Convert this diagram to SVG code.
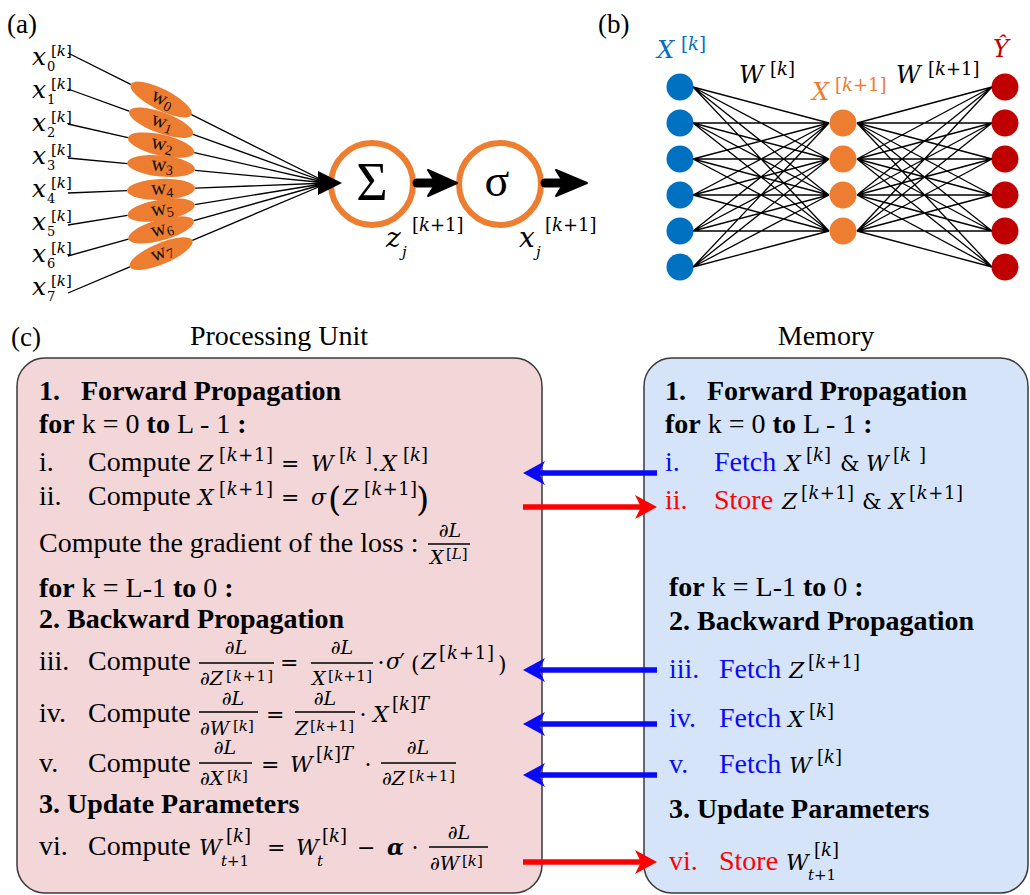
<svg xmlns="http://www.w3.org/2000/svg" width="1030" height="895" viewBox="0 0 1030 895">
<defs>
<style>
.t{font-family:"Liberation Serif","Times New Roman",serif;font-size:28px;fill:#000}
.b{font-weight:bold}
.m{font-family:"DejaVu Serif",serif;font-style:italic;font-size:22px}
.mu{font-family:"DejaVu Serif",serif;font-size:22px}
.s{font-family:"DejaVu Serif",serif;font-size:18px}
.ss{font-family:"DejaVu Serif",serif;font-size:15px}
.sx{font-family:"DejaVu Serif",serif;font-size:15px}
.sd{font-family:"DejaVu Serif",serif;font-size:13px}
.f{font-family:"DejaVu Serif",serif;font-style:italic;font-size:19px}
.i{font-style:italic}
.xa{font-family:"DejaVu Serif",serif;font-style:italic;font-size:25px}
.xz{font-family:"DejaVu Serif",serif;font-style:italic;font-size:28px}
.xb{font-family:"DejaVu Serif",serif;font-style:italic;font-size:24px}
.lbl{font-family:"Liberation Serif","Times New Roman",serif;font-size:27px}
.wl{font-family:"Liberation Serif",serif;font-size:21px;fill:#111}
.ws{font-size:14px}
.wt{fill:#ED7D31}
.blue{fill:#0A0AF5}
.red{fill:#FF0000}
.bar{stroke:#000;stroke-width:1.3}
.nn{stroke:#000;stroke-width:1.3;fill:none}
.ring{fill:#fff;stroke:#ED7D31;stroke-width:6}
.nb{fill:#0070C0}
.no{fill:#ED7D31}
.nr{fill:#C00000}
</style>
<marker id="hb" viewBox="0 0 22 24" refX="9" refY="12" markerWidth="22" markerHeight="24" markerUnits="userSpaceOnUse" orient="auto"><path d="M0 0L22 12L0 24L6 12Z" fill="#0A0AF5"/></marker>
<marker id="hr" viewBox="0 0 22 24" refX="9" refY="12" markerWidth="22" markerHeight="24" markerUnits="userSpaceOnUse" orient="auto"><path d="M0 0L22 12L0 24L6 12Z" fill="#FF0000"/></marker>
</defs>
<rect width="1030" height="895" fill="#fff"/>

<!-- panel labels -->
<text class="lbl" x="7" y="33">(a)</text>
<text class="lbl" x="598" y="33">(b)</text>
<text class="lbl" x="11" y="346">(c)</text>

<!-- Panel (a) inputs -->
<g id="a-inputs">
<g id="x0"><text class="xa" x="32" y="65">x</text><text class="sd" x="47" y="71">0</text><text class="sx" x="51" y="56">[<tspan class="i">k</tspan>]</text></g>
<g id="x1"><text class="xa" x="32" y="98">x</text><text class="sd" x="47" y="104">1</text><text class="sx" x="51" y="89">[<tspan class="i">k</tspan>]</text></g>
<g id="x2"><text class="xa" x="32" y="131">x</text><text class="sd" x="47" y="137">2</text><text class="sx" x="51" y="122">[<tspan class="i">k</tspan>]</text></g>
<g id="x3"><text class="xa" x="32" y="164">x</text><text class="sd" x="47" y="170">3</text><text class="sx" x="51" y="155">[<tspan class="i">k</tspan>]</text></g>
<g id="x4"><text class="xa" x="32" y="197">x</text><text class="sd" x="47" y="203">4</text><text class="sx" x="51" y="188">[<tspan class="i">k</tspan>]</text></g>
<g id="x5"><text class="xa" x="32" y="230">x</text><text class="sd" x="47" y="236">5</text><text class="sx" x="51" y="221">[<tspan class="i">k</tspan>]</text></g>
<g id="x6"><text class="xa" x="32" y="262">x</text><text class="sd" x="47" y="268">6</text><text class="sx" x="51" y="253">[<tspan class="i">k</tspan>]</text></g>
<g id="x7"><text class="xa" x="32" y="295">x</text><text class="sd" x="47" y="301">7</text><text class="sx" x="51" y="286">[<tspan class="i">k</tspan>]</text></g>
</g>

<!-- Panel (a) weights -->
<g id="a-weights">
<g id="w0" transform="translate(161.1 99.5) rotate(26.6)"><ellipse class="wt" rx="34" ry="10.5"/><text class="wl" x="-10" y="5">w<tspan class="ws" dy="3">0</tspan></text></g>
<g id="w1" transform="translate(161.1 122.7) rotate(19.9)"><ellipse class="wt" rx="34" ry="10.5"/><text class="wl" x="-10" y="5">w<tspan class="ws" dy="3">1</tspan></text></g>
<g id="w2" transform="translate(161.1 145.1) rotate(12.8)"><ellipse class="wt" rx="34" ry="10.5"/><text class="wl" x="-10" y="5">w<tspan class="ws" dy="3">2</tspan></text></g>
<g id="w3" transform="translate(161.1 166) rotate(5.5)"><ellipse class="wt" rx="34" ry="10.5"/><text class="wl" x="-10" y="5">w<tspan class="ws" dy="3">3</tspan></text></g>
<g id="w4" transform="translate(161.1 189.4) rotate(-2.2)"><ellipse class="wt" rx="34" ry="10.5"/><text class="wl" x="-10" y="5">w<tspan class="ws" dy="3">4</tspan></text></g>
<g id="w5" transform="translate(161.1 210) rotate(-9.2)"><ellipse class="wt" rx="34" ry="10.5"/><text class="wl" x="-10" y="5">w<tspan class="ws" dy="3">5</tspan></text></g>
<g id="w6" transform="translate(161.1 229.9) rotate(-15.7)"><ellipse class="wt" rx="34" ry="10.5"/><text class="wl" x="-10" y="5">w<tspan class="ws" dy="3">6</tspan></text></g>
<g id="w7" transform="translate(161.1 253.6) rotate(-22.9)"><ellipse class="wt" rx="34" ry="10.5"/><text class="wl" x="-10" y="5">w<tspan class="ws" dy="3">7</tspan></text></g>
</g>

<!-- Panel (a) sum and activation -->
<g id="a-sum">
<circle class="ring" cx="372" cy="184" r="41"/>
<text x="372" y="200" text-anchor="middle" style="font-family:'Liberation Serif',serif;font-size:54px">Σ</text>
<text class="xz" x="386" y="247">z</text><text class="ss i" x="402" y="257">j</text>
<text class="s" x="412" y="231">[<tspan class="i">k</tspan>+1]</text>
</g>
<g id="a-sigma">
<circle class="ring" cx="500" cy="184" r="41"/>
<text x="497" y="196" text-anchor="middle" style="font-family:'Liberation Serif',serif;font-size:46px">σ</text>
<text class="xz" x="519" y="247">x</text><text class="ss i" x="536" y="257">j</text>
<text class="s" x="545" y="231">[<tspan class="i">k</tspan>+1]</text>
</g>

<!-- Panel (b) layers -->
<g id="b-input-layer">
<text class="xb" x="657" y="58" fill="#0070C0">X</text><text class="s" x="681" y="50" fill="#0070C0">[<tspan class="i">k</tspan>]</text>
<circle class="nb" cx="680" cy="87" r="13.5"/><circle class="nb" cx="680" cy="123" r="13.5"/><circle class="nb" cx="680" cy="159" r="13.5"/>
<circle class="nb" cx="680" cy="195" r="13.5"/><circle class="nb" cx="680" cy="231" r="13.5"/><circle class="nb" cx="680" cy="267" r="13.5"/>
</g>
<g id="b-hidden-layer">
<text class="xb" x="812" y="100" fill="#ED7D31">X</text><text class="s" x="835" y="91" fill="#ED7D31">[<tspan class="i">k</tspan>+1]</text>
<circle class="no" cx="843" cy="123" r="13.5"/><circle class="no" cx="843" cy="159" r="13.5"/>
<circle class="no" cx="843" cy="195" r="13.5"/><circle class="no" cx="843" cy="231" r="13.5"/>
</g>
<g id="b-output-layer">
<text class="xb" x="993" y="57" fill="#C00000">Ŷ</text>
<circle class="nr" cx="1005" cy="87" r="13.5"/><circle class="nr" cx="1005" cy="123" r="13.5"/><circle class="nr" cx="1005" cy="159" r="13.5"/>
<circle class="nr" cx="1005" cy="195" r="13.5"/><circle class="nr" cx="1005" cy="231" r="13.5"/><circle class="nr" cx="1005" cy="267" r="13.5"/>
</g>
<g id="b-weight-labels">
<text class="xb" x="739" y="83">W</text><text class="s" x="770" y="75">[<tspan class="i">k</tspan>]</text>
<text class="xb" x="896" y="83">W</text><text class="s" x="928" y="75">[<tspan class="i">k</tspan>+1]</text>
</g>

<!-- Panel (c) titles -->
<text class="t" x="279" y="345" text-anchor="middle">Processing Unit</text>
<text class="t" x="826" y="345" text-anchor="middle">Memory</text>

<!-- Processing unit -->
<g id="processing-unit">
<rect x="17" y="358" width="525" height="535" rx="28" fill="#F2D6D8" stroke="#3a3a3a" stroke-width="1.5"/>
<text class="t b" x="39" y="400">1.</text><text class="t b" x="81" y="400">Forward Propagation</text>
<text class="t" x="39" y="433"><tspan class="b">for</tspan> k = 0 <tspan class="b">to</tspan> L - 1 <tspan class="b">:</tspan></text>

<text class="t" x="39" y="471">i.</text><text class="t" x="88" y="471">Compute</text>
<text class="m" x="198" y="471">Z</text><text class="s" x="219" y="461" textLength="54">[<tspan class="i">k</tspan>+1]</text>
<text class="mu" x="281" y="471">=</text>
<text class="m" x="311" y="471">W</text><text class="s" x="339" y="461">[<tspan class="i">k</tspan></text><text class="s" x="365" y="461">]</text>
<text class="mu" x="372" y="471">.</text>
<text class="m" x="381" y="471">X</text><text class="s" x="403" y="461">[<tspan class="i">k</tspan>]</text>

<text class="t" x="39" y="505">ii.</text><text class="t" x="88" y="505">Compute</text>
<text class="m" x="198" y="505">X</text><text class="s" x="219" y="495" textLength="54">[<tspan class="i">k</tspan>+1]</text>
<text class="mu" x="281" y="505">=</text>
<text class="m" x="311" y="505">σ</text>
<text class="mu" x="328" y="511" style="font-size:34px">(</text>
<text class="m" x="343" y="505">Z</text><text class="s" x="364" y="495" textLength="53">[<tspan class="i">k</tspan>+1]</text>
<text class="mu" x="416" y="511" style="font-size:34px">)</text>

<text class="t" x="39" y="552">Compute the gradient of the loss :</text>
<text class="f" x="450" y="537" text-anchor="middle">∂L</text>
<path class="bar" d="M428 544H470"/>
<text class="f" x="430" y="564">X</text><text class="ss" x="446" y="559">[<tspan class="i">L</tspan>]</text>

<text class="t" x="39" y="597"><tspan class="b">for</tspan> k = L-1 <tspan class="b">to</tspan> 0 <tspan class="b">:</tspan></text>
<text class="t b" x="39" y="628">2. Backward Propagation</text>

<text class="t" x="39" y="670">iii.</text><text class="t" x="88" y="670">Compute</text>
<text class="f" x="236" y="654" text-anchor="middle">∂L</text>
<path class="bar" d="M199 663H274"/>
<text class="f" x="200" y="685">∂Z</text><text class="ss" x="226" y="681" textLength="47">[<tspan class="i">k</tspan>+1]</text>
<text class="mu" x="280" y="670">=</text>
<text class="f" x="342" y="654" text-anchor="middle">∂L</text>
<path class="bar" d="M311 663H373"/>
<text class="f" x="312" y="685">X</text><text class="ss" x="328" y="681" textLength="44">[<tspan class="i">k</tspan>+1]</text>
<text class="mu" x="381" y="670" text-anchor="middle">·</text>
<text class="m" x="386" y="669">σ</text><text class="mu" x="400" y="669">′</text>
<text class="mu" x="411" y="672">(</text>
<text class="m" x="421" y="669">Z</text><text class="s" x="439" y="659" textLength="55">[<tspan class="i">k</tspan>+1]</text>
<text class="mu" x="498" y="672">)</text>

<text class="t" x="39" y="722">iv.</text><text class="t" x="88" y="722">Compute</text>
<text class="f" x="233" y="705" text-anchor="middle">∂L</text>
<path class="bar" d="M199 712H258"/>
<text class="f" x="200" y="735">∂W</text><text class="ss" x="233" y="731">[<tspan class="i">k</tspan>]</text>
<text class="mu" x="266" y="722">=</text>
<text class="f" x="325" y="705" text-anchor="middle">∂L</text>
<path class="bar" d="M295 712H355"/>
<text class="f" x="295" y="735">Z</text><text class="ss" x="310" y="731" textLength="44">[<tspan class="i">k</tspan>+1]</text>
<text class="mu" x="363" y="722" text-anchor="middle">·</text>
<text class="m" x="373" y="722">X</text><text class="s" x="392" y="710">[<tspan class="i">k</tspan>]<tspan class="i">T</tspan></text>

<text class="t" x="39" y="772">v.</text><text class="t" x="88" y="772">Compute</text>
<text class="f" x="225" y="754" text-anchor="middle">∂L</text>
<path class="bar" d="M199 763H252"/>
<text class="f" x="200" y="785">∂X</text><text class="ss" x="227" y="781">[<tspan class="i">k</tspan>]</text>
<text class="mu" x="261" y="772">=</text>
<text class="m" x="290" y="772">W</text><text class="s" x="316" y="760">[<tspan class="i">k</tspan>]<tspan class="i">T</tspan></text>
<text class="mu" x="368" y="772" text-anchor="middle">·</text>
<text class="f" x="418" y="754" text-anchor="middle">∂L</text>
<path class="bar" d="M381 763H456"/>
<text class="f" x="382" y="785">∂Z</text><text class="ss" x="409" y="781" textLength="46">[<tspan class="i">k</tspan>+1]</text>

<text class="t b" x="39" y="813">3. Update Parameters</text>

<text class="t" x="39" y="855">vi.</text><text class="t" x="88" y="855">Compute</text>
<text class="m" x="199" y="855">W</text><text class="s" x="226" y="842">[<tspan class="i">k</tspan>]</text>
<text class="ss" x="221" y="866"><tspan class="i">t</tspan>+1</text>
<text class="mu" x="267" y="855">=</text>
<text class="m" x="296" y="855">W</text><text class="ss i" x="317" y="866">t</text><text class="s" x="322" y="842">[<tspan class="i">k</tspan>]</text>
<text class="mu" x="357" y="855">−</text>
<text class="m b" x="387" y="855">α</text>
<text class="mu" x="415" y="855" text-anchor="middle">·</text>
<text class="f" x="459" y="839" text-anchor="middle">∂L</text>
<path class="bar" d="M429 847H488"/>
<text class="f" x="430" y="870">∂W</text><text class="ss" x="462" y="866">[<tspan class="i">k</tspan>]</text>
</g>

<!-- Memory -->
<g id="memory">
<rect x="644" y="358" width="384" height="535" rx="28" fill="#D6E4FA" stroke="#3a3a3a" stroke-width="1.5"/>
<text class="t b" x="665" y="400">1.</text><text class="t b" x="707" y="400">Forward Propagation</text>
<text class="t" x="665" y="433"><tspan class="b">for</tspan> k = 0 <tspan class="b">to</tspan> L - 1 <tspan class="b">:</tspan></text>

<text class="t blue" x="665" y="471">i.</text><text class="t blue" x="714" y="471">Fetch</text>
<text class="m" x="785" y="471">X</text><text class="s" x="806" y="461">[<tspan class="i">k</tspan>]</text>
<text class="mu" x="840" y="471">&amp;</text>
<text class="m" x="866" y="471">W</text><text class="s" x="893" y="461">[<tspan class="i">k</tspan></text><text class="s" x="919" y="461">]</text>

<text class="t red" x="665" y="509">ii.</text><text class="t red" x="714" y="509">Store</text>
<text class="m" x="782" y="509">Z</text><text class="s" x="801" y="499" textLength="53">[<tspan class="i">k</tspan>+1]</text>
<text class="mu" x="862" y="509">&amp;</text>
<text class="m" x="889" y="509">X</text><text class="s" x="909" y="499" textLength="54">[<tspan class="i">k</tspan>+1]</text>

<text class="t" x="669" y="596"><tspan class="b">for</tspan> k = L-1 <tspan class="b">to</tspan> 0 <tspan class="b">:</tspan></text>
<text class="t b" x="669" y="630">2. Backward Propagation</text>

<text class="t blue" x="669" y="678">iii.</text><text class="t blue" x="719" y="678">Fetch</text>
<text class="m" x="789" y="678">Z</text><text class="s" x="808" y="668" textLength="52">[<tspan class="i">k</tspan>+1]</text>

<text class="t blue" x="669" y="727">iv.</text><text class="t blue" x="719" y="727">Fetch</text>
<text class="m" x="788" y="727">X</text><text class="s" x="809" y="717">[<tspan class="i">k</tspan>]</text>

<text class="t blue" x="669" y="773">v.</text><text class="t blue" x="719" y="773">Fetch</text>
<text class="m" x="789" y="773">W</text><text class="s" x="817" y="763">[<tspan class="i">k</tspan>]</text>

<text class="t b" x="669" y="818">3. Update Parameters</text>

<text class="t red" x="669" y="870">vi.</text><text class="t red" x="719" y="870">Store</text>
<text class="m" x="786" y="870">W</text><text class="s" x="814" y="856">[<tspan class="i">k</tspan>]</text>
<text class="ss" x="808" y="880"><tspan class="i">t</tspan>+1</text>
</g>

<!-- Connectors -->
<g id="connectors">
<path class="nn" d="M68 53L130.7 84.3M191.5 114.7L328 183
M68 89L129.1 111.1M193.1 134.3L328 183
M68 124L127.9 137.6M194.3 152.6L328 183
M68 158L127.3 163.7M194.9 170.3L328 183
M68 193L127.1 190.7M195.1 188.1L328 183
M68 225L127.5 215.4M194.7 204.6L328 183
M68 256L128.4 239.1M193.8 220.7L328 183
M68 293L129.8 266.8M192.4 240.4L328 183"/>
<path d="M318 171L342 183L318 195Z" fill="#000"/>
<path d="M417 183H440" stroke="#000" stroke-width="9" stroke-linecap="round"/>
<path d="M457 183L428 170L436 183L428 196Z" fill="#000" stroke="#000" stroke-width="2" stroke-linejoin="round"/>
<path d="M545 183H566" stroke="#000" stroke-width="9" stroke-linecap="round"/>
<path d="M587 183L556 170L564 183L556 196Z" fill="#000" stroke="#000" stroke-width="2" stroke-linejoin="round"/>

<path class="nn" d="M693 87L829 123M693 87L829 159M693 87L829 195M693 87L829 231
M693 123L829 123M693 123L829 159M693 123L829 195M693 123L829 231
M693 159L829 123M693 159L829 159M693 159L829 195M693 159L829 231
M693 195L829 123M693 195L829 159M693 195L829 195M693 195L829 231
M693 231L829 123M693 231L829 159M693 231L829 195M693 231L829 231
M693 267L829 123M693 267L829 159M693 267L829 195M693 267L829 231"/>
<path class="nn" d="M857 123L992 87M857 123L992 123M857 123L992 159M857 123L992 195M857 123L992 231M857 123L992 267
M857 159L992 87M857 159L992 123M857 159L992 159M857 159L992 195M857 159L992 231M857 159L992 267
M857 195L992 87M857 195L992 123M857 195L992 159M857 195L992 195M857 195L992 231M857 195L992 267
M857 231L992 87M857 231L992 123M857 231L992 159M857 231L992 195M857 231L992 231M857 231L992 267"/>

<path d="M657 473H536" stroke="#0A0AF5" stroke-width="5.5" marker-end="url(#hb)"/>
<path d="M523 507H644" stroke="#FF0000" stroke-width="5.5" marker-end="url(#hr)"/>
<path d="M657 670H536" stroke="#0A0AF5" stroke-width="5.5" marker-end="url(#hb)"/>
<path d="M657 724H536" stroke="#0A0AF5" stroke-width="5.5" marker-end="url(#hb)"/>
<path d="M657 775H536" stroke="#0A0AF5" stroke-width="5.5" marker-end="url(#hb)"/>
<path d="M523 862H644" stroke="#FF0000" stroke-width="5.5" marker-end="url(#hr)"/>
</g>
</svg>
